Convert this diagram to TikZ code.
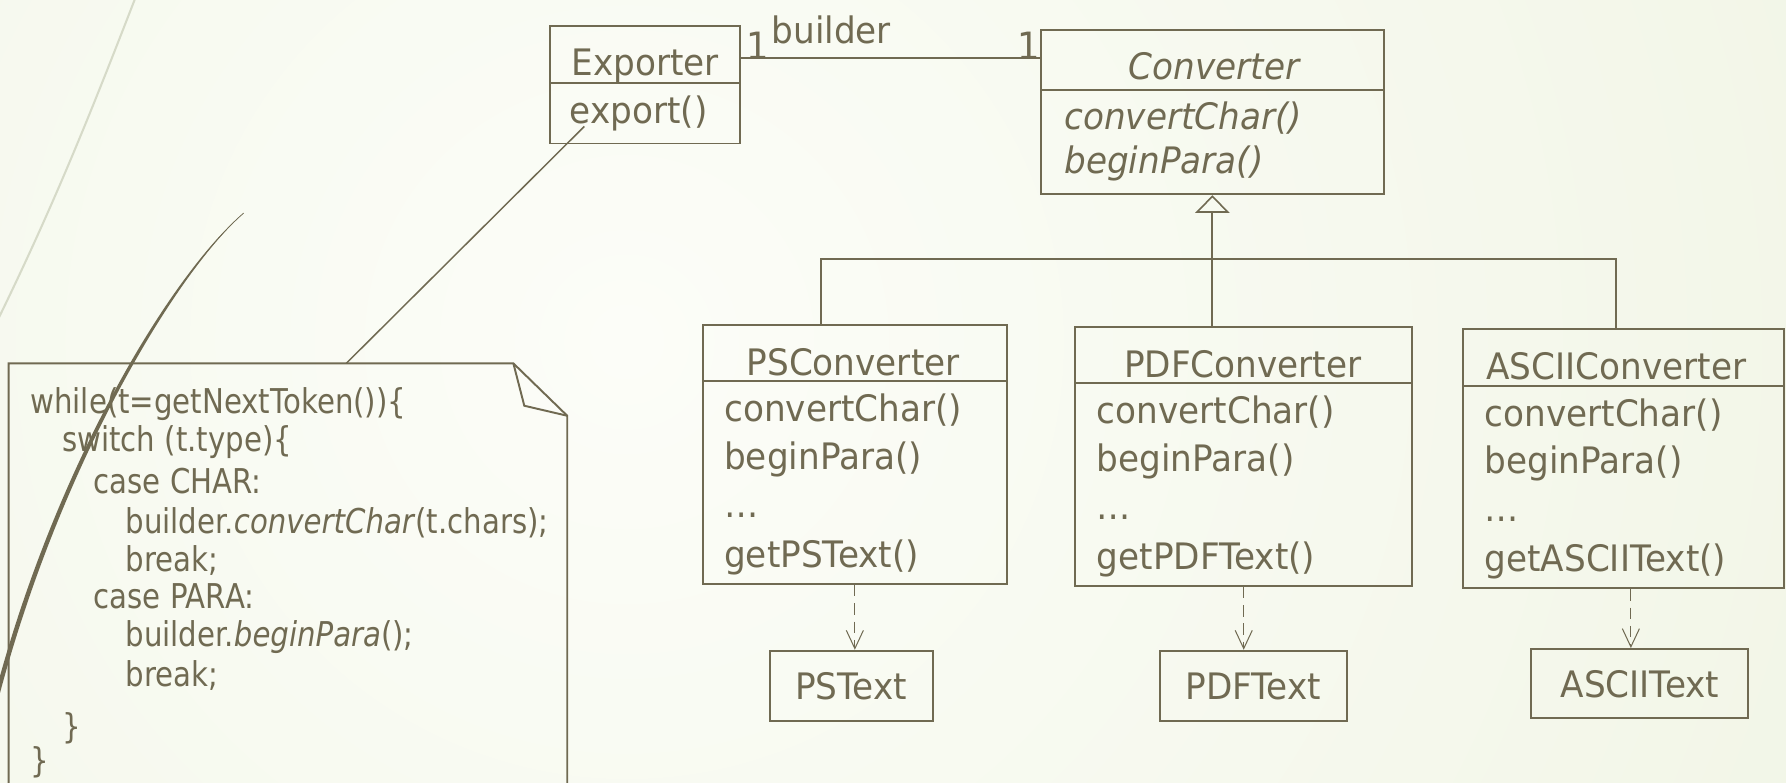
\documentclass[tikz,border=0pt]{standalone}
\usepackage{fontspec}
\setmainfont{DejaVu Sans}
\newfontfamily\clsfont{DejaVu Sans}[FakeStretch=0.94]
\newfontfamily\codefont{DejaVu Sans}[FakeStretch=0.855]
\usetikzlibrary{arrows.meta,fit,calc}

\definecolor{ink}{RGB}{112,106,82}
\definecolor{bginner}{RGB}{252,253,248}
\definecolor{bgouter}{RGB}{231,238,213}
\definecolor{arcgray}{RGB}{214,218,200}
\pgfdeclareradialshading{bgglow}{\pgfpointorigin}{color(0bp)=(bginner); color(50bp)=(bgouter)}

\tikzset{
  umlbox/.style={draw=ink, line width=0.85pt, inner sep=0pt},
  cls/.style={font=\clsfont\fontsize{16}{19}\selectfont, text=ink, inner sep=0pt},
  clsit/.style={font=\clsfont\fontsize{16}{19}\selectfont\itshape, text=ink, inner sep=0pt},
  member/.style={cls, anchor=base west},
  title/.style={cls, anchor=base},
  mult/.style={font=\clsfont\fontsize{16.5}{19}\selectfont, text=ink, inner sep=0pt, anchor=base west},
  code/.style={font=\codefont\fontsize{15}{18}\selectfont, text=ink, inner sep=0pt, anchor=base west},
  link/.style={draw=ink, line width=0.85pt},
  notelink/.style={draw=ink, line width=0.65pt},
  inherit/.style={link, -{Triangle[open, length=7.75pt, width=15pt, line width=0.7pt]}},
  depend/.style={draw=ink, line width=0.45pt, dash pattern=on 5pt off 3pt,
    -{Straight Barb[length=8pt, width=7.5pt, line width=0.45pt]}},
}

\begin{document}
\begin{tikzpicture}[x=0.5pt, y=-0.5pt]
  \useasboundingbox (0,0) rectangle (1568,687);
  \clip (0,0) rectangle (1568,687);

  % background glow
  \fill[bgouter] (0,0) rectangle (1568,687);
  \shade[shading=bgglow] (550,300) circle [radius=575pt];

  % decorative sweeps on the left
  \draw[arcgray, line width=0.9pt] (122,-10) .. controls (84,88) and (50,175) .. (-4,285);
  \fill[ink] (214,187) .. controls (150,240) and (40,420) .. (-12,640)
             -- (-8,640) .. controls (44,422) and (152,242) .. (214,187) -- cycle;
  \draw[ink, line width=0.3pt] (214,187) .. controls (151,241) and (42,421) .. (-10,640);

  % ---------- Exporter ----------
  \node[umlbox, fit={(483,23) (650,126)}] (exporter) {};
  \draw[link] (483,72.5) -- (650,72.5);
  \node[title] (expname) at (566.5,66) {Exporter};
  \node[member] (expop) at (500,108) {export()};

  % ---------- Converter (abstract) ----------
  \node[umlbox, fit={(914,26.3) (1214.8,170.5)}] (converter) {};
  \draw[link] (914,79) -- (1214.8,79);
  \node[clsit, anchor=base] (convname) at (1066,70) {Converter};
  \node[clsit, anchor=base west] (convop1) at (934,114) {convertChar()};
  \node[clsit, anchor=base west] (convop2) at (934,152) {beginPara()};

  % association Exporter -- Converter
  \coordinate (assocL) at ($(exporter.north east)+(0,28.8)$);
  \draw[link] (assocL) -- (assocL -| converter.west);
  \node[mult] (multL) at (655,51.8) {1};
  \node[member] (rolename) at (677,38) {builder};
  \node[mult] (multR) at (893,51.8) {1};

  % ---------- concrete converters ----------
  % PSConverter
  \node[umlbox, fit={(617,285.3) (884,512.8)}] (ps) {};
  \draw[link] (617,334.3) -- (884,334.3);
  \node[title] (psname) at (749,329.3) {PSConverter};
  \node[member] (psop1) at (635.4,370.3) {convertChar()};
  \node[member] (psop2) at (635.4,412.3) {beginPara()};
  \node[member] (psop3) at (635.4,454.3) {…};
  \node[member] (psop4) at (635.4,498.3) {getPSText()};

  % PDFConverter
  \node[umlbox, fit={(943.8,287) (1240,514.5)}] (pdf) {};
  \draw[link] (943.8,336) -- (1240,336);
  \node[title] (pdfname) at (1091,331) {PDFConverter};
  \node[member] (pdfop1) at (962.5,372) {convertChar()};
  \node[member] (pdfop2) at (962.5,414) {beginPara()};
  \node[member] (pdfop3) at (962.5,456) {…};
  \node[member] (pdfop4) at (962.5,500) {getPDFText()};

  % ASCIIConverter
  \node[umlbox, fit={(1284.6,289) (1566,516.6)}] (ascii) {};
  \draw[link] (1284.6,338.5) -- (1566,338.5);
  \node[title] (asciiname) at (1419,333) {ASCIIConverter};
  \node[member] (asciiop1) at (1303,374) {convertChar()};
  \node[member] (asciiop2) at (1303,416) {beginPara()};
  \node[member] (asciiop3) at (1303,458) {…};
  \node[member] (asciiop4) at (1303,502) {getASCIIText()};

  % generalization tree
  \coordinate (busL) at (721,227.5);
  \coordinate (busR) at (1419,227.5);
  \draw[inherit] (converter.south |- pdf.north) -- (converter.south);
  \draw[link] (ps.north -| busL) |- (busR) -- (ascii.north -| busR);

  % ---------- products ----------
  \node[umlbox, fit={(675.7,571.3) (818.7,632.7)}] (pstext) {};
  \node[umlbox, fit={(1018,571.3) (1182.8,632.7)}] (pdftext) {};
  \node[umlbox, fit={(1344.5,569.8) (1535,630.7)}] (asciitext) {};
  \node[title] (pstextname) at ($(pstext.center)+(0,12)$) {PSText};
  \node[title] (pdftextname) at ($(pdftext.center)+(0,12)$) {PDFText};
  \node[title] (asciitextname) at ($(asciitext.center)+(0,12)$) {ASCIIText};

  \draw[depend] (ps.south) -- (ps.south |- pstext.north);
  \draw[depend] (pdf.south) -- (pdf.south |- pdftext.north);
  \draw[depend] ([xshift=3.25pt]ascii.south) -- ([xshift=3.25pt]ascii.south |- asciitext.north);

  % ---------- note attached to export() ----------
  \coordinate (notebl) at (7.5,700);
  \coordinate (notetl) at (7.5,319);
  \coordinate (notefold) at (450.7,319);
  \coordinate (notecorner) at (498,365);
  \coordinate (notebr) at (498,700);
  \draw[link, line join=miter] (notebl) -- (notetl) -- (notefold) -- (notecorner) -- (notebr);
  \draw[link, line join=miter] (notefold) -- (460.3,356.2) -- (notecorner);

  \coordinate (exphook) at (513,111);
  \coordinate (notetop) at (304,319);
  \draw[notelink] (exphook) -- (notetop);

  \node[code] (c1) at (26.3,362.9) {while(t=getNextToken()){\{}};
  \node[code] (c2) at (54.1,396.5) {switch (t.type){\{}};
  \node[code] (c3) at (81.9,433.1) {case CHAR:};
  \node[code] (c4) at (109.8,468.3) {builder.\textit{convertChar}(t.chars);};
  \node[code] (c5) at (109.8,501.9) {break;};
  \node[code] (c6) at (81.9,534.1) {case PARA:};
  \node[code] (c7) at (109.8,567.7) {builder.\textit{beginPara}();};
  \node[code] (c8) at (109.8,602.9) {break;};
  \node[code] (c9) at (54.1,648) {\}};
  \node[code] (c10) at (26.3,678) {\}};
\end{tikzpicture}
\end{document}
